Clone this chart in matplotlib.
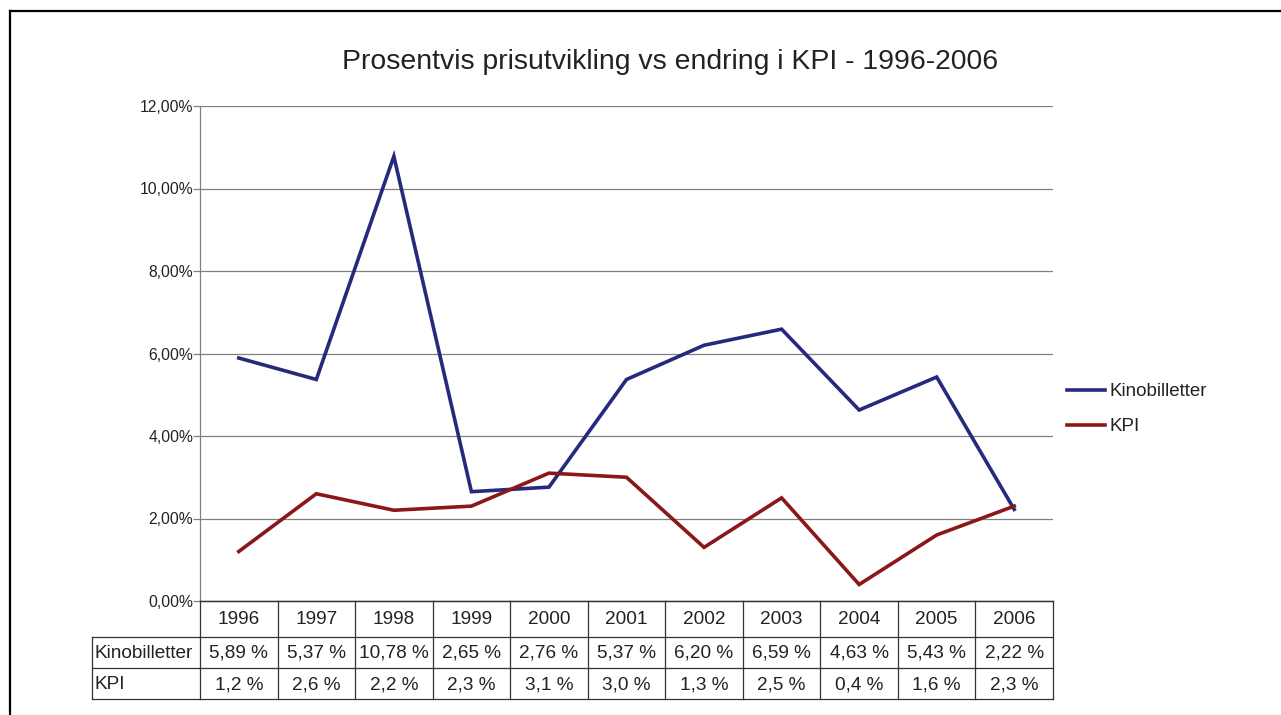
import matplotlib
matplotlib.use("Agg")
import matplotlib.pyplot as plt
from matplotlib.lines import Line2D
import numpy as np

plt.rcParams['font.family'] = ['Liberation Sans', 'DejaVu Sans']

years = ["1996", "1997", "1998", "1999", "2000", "2001", "2002", "2003", "2004", "2005", "2006"]
kino = [5.89, 5.37, 10.78, 2.65, 2.76, 5.37, 6.20, 6.59, 4.63, 5.43, 2.22]
kpi = [1.2, 2.6, 2.2, 2.3, 3.1, 3.0, 1.3, 2.5, 0.4, 1.6, 2.3]
series_names = ["Kinobilletter", "KPI"]
yticks = [0, 2, 4, 6, 8, 10, 12]
title = "Prosentvis prisutvikling vs endring i KPI - 1996-2006"

W, H = 1281, 715
fig = plt.figure(figsize=(W / 100, H / 100), dpi=100)
fig.patch.set_facecolor("white")

def fx(px):
    return px / W

def fy(py):
    return 1 - py / H

# frame (only left and top visible)
fig.add_artist(Line2D([fx(10), fx(10)], [fy(11), fy(800)], color="black", lw=1.6, transform=fig.transFigure))
fig.add_artist(Line2D([fx(10), fx(1300)], [fy(11), fy(11)], color="black", lw=1.6, transform=fig.transFigure))

L, R, T, B = 200, 1053, 106, 601
ax = fig.add_axes([fx(L), fy(B), fx(R - L), (B - T) / H])
x = np.arange(len(years))
blue = "#262A7C"
red = "#8B1719"
l1, = ax.plot(x, kino, color=blue, lw=2.6, solid_joinstyle="miter")
l2, = ax.plot(x, kpi, color=red, lw=2.6, solid_joinstyle="miter")
ax.set_xlim(-0.5, len(years) - 0.5)
ax.set_ylim(0, 12)
ax.set_yticks(yticks)
ax.set_yticklabels([f"{v:.2f}".replace(".", ",") + "%" for v in yticks], fontsize=11.3, color="#222222")
ax.set_xticks([])
ax.yaxis.grid(True, color="#808080", lw=0.9)
ax.set_axisbelow(True)
ax.tick_params(axis="y", length=5, width=0.9, color="#808080", pad=0)
for s in ["top", "right"]:
    ax.spines[s].set_visible(False)
ax.spines["left"].set_color("#808080")
ax.spines["left"].set_linewidth(0.9)
ax.spines["bottom"].set_color("#333333")
ax.spines["bottom"].set_linewidth(0.9)

# data table
TL, TB = 92, 699
tab = fig.add_axes([fx(TL), fy(TB), fx(R - TL), (TB - B) / H])
colw = (R - L) / len(years)
lab_w = (L - TL) / colw
tab.set_xlim(-0.5 - lab_w, len(years) - 0.5)
tab.set_ylim(TB - B, 0)
tab.axis("off")
rows = [0, 36, 67, 98]
lc = "#333333"
lw = 0.9
# horizontal lines
tab.plot([-0.5, len(years) - 0.5], [rows[0], rows[0]], color=lc, lw=lw, clip_on=False)
for r in rows[1:]:
    tab.plot([-0.5 - lab_w, len(years) - 0.5], [r, r], color=lc, lw=lw, clip_on=False)
# vertical lines
for i in range(len(years) + 1):
    tab.plot([i - 0.5, i - 0.5], [rows[0], rows[3]], color=lc, lw=lw, clip_on=False)
tab.plot([-0.5 - lab_w, -0.5 - lab_w], [rows[1], rows[3]], color=lc, lw=lw, clip_on=False)

fs = 13.7
for i, yv in enumerate(years):
    tab.text(i, (rows[0] + rows[1]) / 2 + 1, yv, ha="center", va="center", fontsize=fs, color="#222222")
    tab.text(i, (rows[1] + rows[2]) / 2 + 1, f"{kino[i]:.2f}".replace(".", ",") + " %", ha="center", va="center", fontsize=fs, color="#222222")
    tab.text(i, (rows[2] + rows[3]) / 2 + 1, f"{kpi[i]:.1f}".replace(".", ",") + " %", ha="center", va="center", fontsize=fs, color="#222222")
tab.text(-0.5 - lab_w + 0.03, (rows[1] + rows[2]) / 2 + 1, series_names[0], ha="left", va="center", fontsize=fs, color="#222222")
tab.text(-0.5 - lab_w + 0.03, (rows[2] + rows[3]) / 2 + 1, series_names[1], ha="left", va="center", fontsize=fs, color="#222222")

# legend
leg = fig.legend([l1, l2], series_names, loc="upper left", bbox_to_anchor=(fx(1067), fy(383)),
                 frameon=False, fontsize=13.5, handlelength=2.05, handletextpad=0.2,
                 labelspacing=0.95, borderpad=0, borderaxespad=0)
for t in leg.get_texts():
    t.set_color("#222222")

fig.text(fx(670), fy(62), title, ha="center", va="center", fontsize=20.4, color="#222222")

fig.savefig("out.png", dpi=100)
